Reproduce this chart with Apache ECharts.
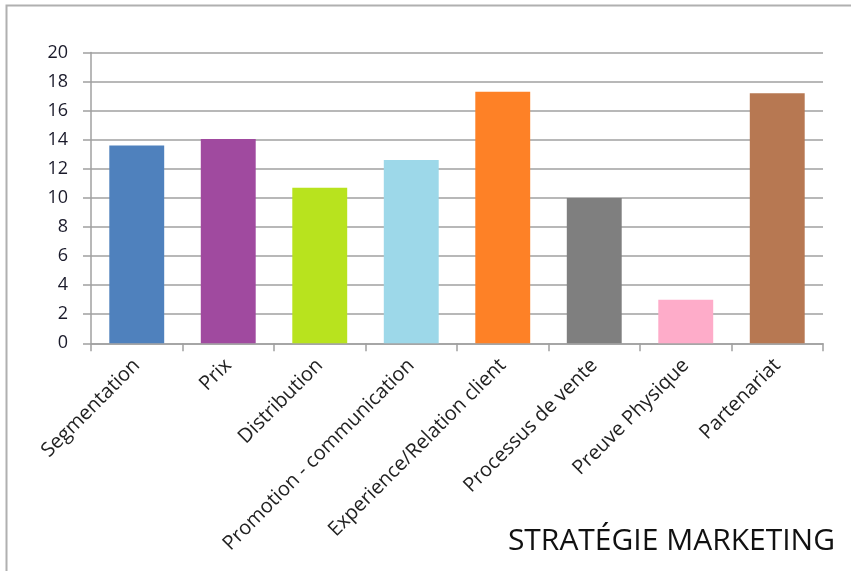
<!DOCTYPE html>
<html>
<head>
<meta charset="utf-8">
<script src="https://cdn.jsdelivr.net/npm/echarts@6/dist/echarts.min.js"></script>
<style>
html,body{margin:0;padding:0;background:#fff;}
#main{width:851px;height:571px;}
</style>
</head>
<body>
<div id="main"></div>
<script>
var categories = ["Segmentation", "Prix", "Distribution", "Promotion - communication",
    "Experience/Relation client", "Processus de vente", "Preuve Physique", "Partenariat"];
var values = [13.6, 14.05, 10.7, 12.6, 17.3, 10, 3, 17.2];
var colors = ["#4f81bd", "#a04a9f", "#b8e31e", "#9dd8e9", "#fe8126", "#7f7f7f", "#feacc9", "#b77852"];

var myChart = echarts.init(document.getElementById("main"));
myChart.setOption({
    animation: false,
    title: {
        text: "STRATÉGIE MARKETING",
        right: 11,
        bottom: 10,
        textStyle: {
            fontFamily: "Open Sans",
            fontSize: 30,
            fontWeight: "normal",
            color: "#111"
        }
    },
    graphic: [{
        type: "rect",
        shape: { x: 6.5, y: 5.5, width: 900, height: 700 },
        style: { fill: null, stroke: "#b0b0b0", lineWidth: 2 },
        silent: true
    }],
    grid: {
        left: 91,
        right: 28,
        top: 52.5,
        bottom: 227.7
    },
    xAxis: {
        type: "category",
        data: categories,
        axisLine: { lineStyle: { color: "#a0a0a0", width: 1.5 } },
        axisTick: { show: true, length: 8, lineStyle: { color: "#a0a0a0", width: 1.5 } },
        axisLabel: {
            rotate: 45,
            interval: 0,
            margin: 19,
            fontFamily: "Open Sans",
            fontSize: 20,
            color: "#222"
        }
    },
    yAxis: {
        type: "value",
        min: 0,
        max: 20,
        interval: 2,
        axisLine: { show: true, lineStyle: { color: "#a0a0a0", width: 1.5 } },
        axisTick: { show: true, length: 8, lineStyle: { color: "#a0a0a0", width: 1.5 } },
        splitLine: { lineStyle: { color: "#a0a0a0", width: 1.5 } },
        axisLabel: {
            margin: 23,
            fontFamily: "Open Sans",
            fontSize: 18,
            color: "#1a1a2a"
        }
    },
    series: [{
        type: "bar",
        barWidth: "60%",
        data: values.map(function (v, i) {
            return { value: v, itemStyle: { color: colors[i] } };
        })
    }]
});
</script>
</body>
</html>
